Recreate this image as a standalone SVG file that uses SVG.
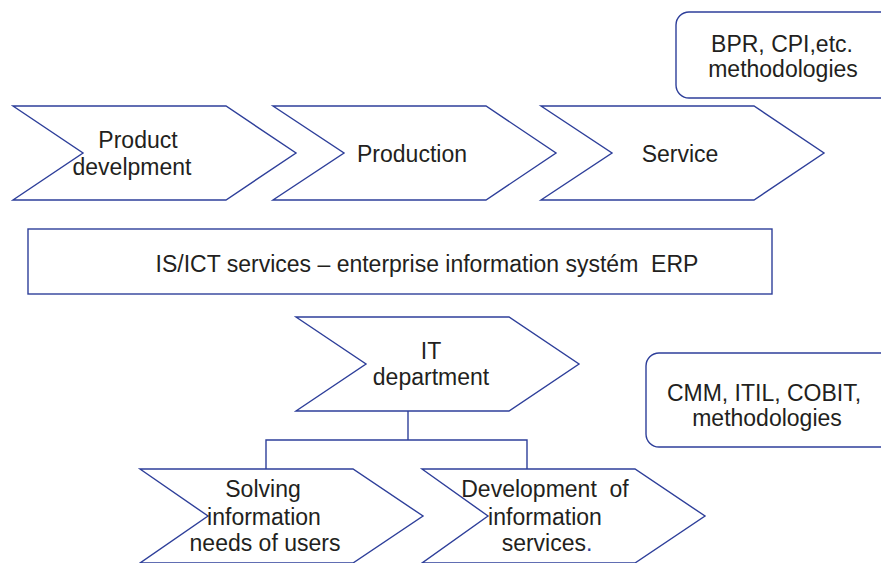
<svg xmlns="http://www.w3.org/2000/svg" width="881" height="563" viewBox="0 0 881 563">
<style>
.s{fill:#fff;stroke:#2e3f9a;stroke-width:1.4;stroke-linejoin:miter}
.c{fill:none;stroke:#2e3f9a;stroke-width:1.4}
text{font-family:"Liberation Sans",Arial,sans-serif;font-size:23px;fill:#231f20;text-anchor:middle;white-space:pre}
</style>
<rect width="881" height="563" fill="#fff"/>
<g id="bpr">
<rect class="s" x="676" y="12" width="230" height="86" rx="13"/>
<text x="782" y="51.5">BPR, CPI,etc.</text>
<text x="783" y="77">methodologies</text>
</g>
<g id="product">
<polygon class="s" points="13,106 226,106 296,153 226,200 13,200 83,153"/>
<text x="138" y="148">Product</text>
<text x="132" y="175">develpment</text>
</g>
<g id="production">
<polygon class="s" points="273,106 486,106 556,153 486,200 273,200 344,153"/>
<text x="412" y="161.5">Production</text>
</g>
<g id="service">
<polygon class="s" points="541,106 754,106 824,153 754,200 541,200 612,153"/>
<text x="680" y="161.5">Service</text>
</g>
<g id="erp">
<rect class="s" x="28" y="229" width="744" height="65"/>
<text x="427" y="272" xml:space="preserve">IS/ICT services – enterprise information systém  ERP</text>
</g>
<g id="it">
<polygon class="s" points="296,317 509,317 579,364 509,411 296,411 366,364"/>
<text x="431" y="359">IT</text>
<text x="431" y="385">department</text>
</g>
<g id="cmm">
<rect class="s" x="646" y="353" width="260" height="94" rx="13"/>
<text x="764" y="401">CMM, ITIL, COBIT,</text>
<text x="767" y="426">methodologies</text>
</g>
<g id="connectors">
<polyline class="c" points="408,411 408,440"/>
<polyline class="c" points="266,469 266,440 527,440 527,469"/>
</g>
<g id="solving">
<polygon class="s" points="140,469 353,469 423,516 353,563 140,563 208,516"/>
<text x="263" y="497">Solving</text>
<text x="264" y="525">information</text>
<text x="265" y="551">needs of users</text>
</g>
<g id="development">
<polygon class="s" points="422,469 635,469 705,516 635,563 422,563 488,516"/>
<text x="545" y="497" xml:space="preserve">Development  of</text>
<text x="545" y="525">information</text>
<text x="547" y="551">services<tspan fill="#2e3f9a">.</tspan></text>
</g>
</svg>
